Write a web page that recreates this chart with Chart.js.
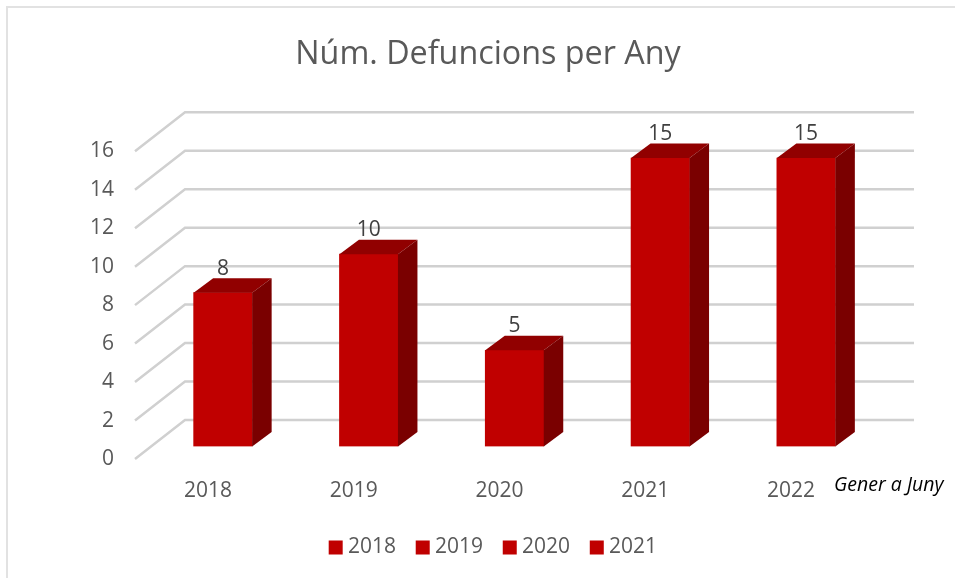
<!DOCTYPE html>
<html>
<head>
<meta charset="utf-8">
<style>
  html, body { margin: 0; padding: 0; background: #fff; }
  #wrap { width: 955px; height: 578px; }
</style>
<script src="https://cdn.jsdelivr.net/npm/chart.js@4"></script>
</head>
<body>
<div id="wrap"><canvas id="myChart" width="955" height="578"></canvas></div>
<script>
var chartTitle = "Núm. Defuncions per Any";
var xValues = ["2018", "2019", "2020", "2021", "2022"];
var yValues = [8, 10, 5, 15, 15];
var legendValues = ["2018", "2019", "2020", "2021"];
var xNote = "Gener a Juny";

var barColor = "#c00000";
var topColor = "#910000";
var sideColor = "#7a0000";
var gridColor = "#d0d0d0";
var textColor = "#595959";
var fontName = "'Open Sans', sans-serif";

// the axes sit on the front edge of the floor, back wall and bars are pushed in from there
var wallDepth = { x: 50, y: -39 };
var barShift = { x: 15, y: -12.5 };
var barDepth = { x: 19.5, y: -14.5 };

var wallPlugin = {
  id: "wall",
  beforeDatasetsDraw: function (chart) {
    var ctx = chart.ctx;
    var yScale = chart.scales.y;
    var area = chart.chartArea;
    ctx.save();
    ctx.strokeStyle = gridColor;
    ctx.lineWidth = 2.5;
    yScale.ticks.forEach(function (tick) {
      var y = yScale.getPixelForValue(tick.value);
      ctx.beginPath();
      ctx.moveTo(area.left, y);
      ctx.lineTo(area.left + wallDepth.x, y + wallDepth.y);
      ctx.lineTo(area.right + wallDepth.x, y + wallDepth.y);
      ctx.stroke();
    });
    ctx.restore();
    ctx.save();
    ctx.translate(barShift.x, barShift.y);
  },
  afterDatasetsDraw: function (chart) {
    var ctx = chart.ctx;
    chart.getDatasetMeta(0).data.forEach(function (bar, i) {
      var left = bar.x - bar.width / 2;
      var right = bar.x + bar.width / 2;
      ctx.fillStyle = topColor;
      ctx.beginPath();
      ctx.moveTo(left, bar.y);
      ctx.lineTo(left + barDepth.x, bar.y + barDepth.y);
      ctx.lineTo(right + barDepth.x, bar.y + barDepth.y);
      ctx.lineTo(right, bar.y);
      ctx.closePath();
      ctx.fill();
      ctx.fillStyle = sideColor;
      ctx.beginPath();
      ctx.moveTo(right, bar.y);
      ctx.lineTo(right + barDepth.x, bar.y + barDepth.y);
      ctx.lineTo(right + barDepth.x, bar.base + barDepth.y);
      ctx.lineTo(right, bar.base);
      ctx.closePath();
      ctx.fill();
      ctx.fillStyle = "#404040";
      ctx.font = "21px " + fontName;
      ctx.textAlign = "center";
      ctx.textBaseline = "middle";
      ctx.fillText(yValues[i], bar.x, bar.y - 24);
    });
    ctx.restore();
  },
  afterLayout: function (chart) {
    // title and legend are not centred on the plot, nudge them over
    chart.titleBlock.left += 21;
    chart.titleBlock.right += 21;
    chart.legend.left += 28.5;
    chart.legend.right += 28.5;
    chart.legend.top -= 10;
    chart.legend.bottom -= 10;
  },
  afterDraw: function (chart) {
    var ctx = chart.ctx;
    ctx.save();
    ctx.strokeStyle = "#e2e2e2";
    ctx.lineWidth = 2;
    ctx.beginPath();
    ctx.moveTo(7, 578);
    ctx.lineTo(7, 7);
    ctx.lineTo(955, 7);
    ctx.stroke();
    ctx.fillStyle = "#000";
    ctx.font = "italic 19.5px " + fontName;
    ctx.textAlign = "left";
    ctx.textBaseline = "middle";
    ctx.fillText(xNote, 834, 485);
    ctx.restore();
  }
};

new Chart(document.getElementById("myChart"), {
  type: "bar",
  plugins: [wallPlugin],
  data: {
    labels: xValues,
    datasets: [{
      data: yValues,
      backgroundColor: barColor,
      barThickness: 58.5
    }]
  },
  options: {
    responsive: false,
    animation: false,
    layout: { padding: { left: 70, right: 91, top: 0, bottom: 0 } },
    scales: {
      x: {
        grid: { display: false },
        border: { display: false },
        ticks: { color: textColor, font: { family: fontName, size: 21 }, padding: 11 },
        afterFit: function (scale) { scale.height = 63; }
      },
      y: {
        min: 0,
        max: 16,
        grid: { display: false, drawTicks: false },
        border: { display: false },
        ticks: { stepSize: 2, color: textColor, font: { family: fontName, size: 21 }, padding: 21 },
        afterFit: function (scale) { scale.width = 65; }
      }
    },
    plugins: {
      title: {
        display: true,
        text: chartTitle,
        color: textColor,
        font: { family: fontName, size: 32.3, weight: "normal" },
        padding: { top: 35, bottom: 77.5 }
      },
      legend: {
        position: "bottom",
        labels: {
          color: textColor,
          font: { family: fontName, size: 21 },
          boxWidth: 3.5,
          boxHeight: 3.5,
          padding: 25,
          generateLabels: function () {
            return legendValues.map(function (year) {
              return { text: year, fillStyle: barColor, strokeStyle: barColor, lineWidth: 10.5, fontColor: textColor };
            });
          }
        }
      },
      tooltip: { enabled: false }
    }
  }
});
</script>
</body>
</html>
